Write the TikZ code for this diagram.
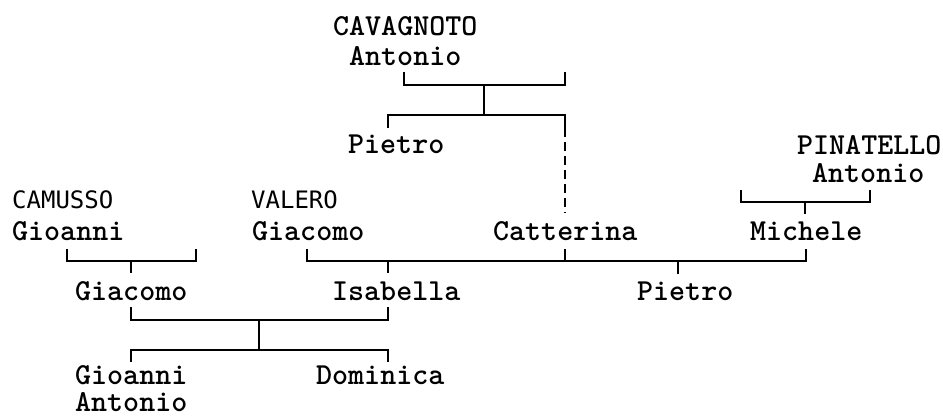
\documentclass[tikz,border=0pt]{standalone}
\usepackage{fontspec}
\newfontfamily\capsans{DejaVu Sans Mono}
\tikzset{
  person/.style={font=\ttfamily\bfseries\fontsize{30.5}{32}\selectfont, inner sep=0pt, anchor=base west},
  sansname/.style={font=\capsans\fontsize{24}{26}\selectfont, inner sep=0pt, anchor=base west},
  bar/.style={line width=1.7pt},
  unsure/.style={bar, dash pattern=on 9pt off 5pt}
}
\begin{document}
\begin{tikzpicture}[x=1pt,y=-1pt]
                \useasboundingbox (0,0) rectangle (943,416);
                \node[person] (cavagnoto) at (333,35) {CAVAGNOTO};
                \node[person] (antonioC) at (349,65) {Antonio};
                \node[person] (pietroC) at (348,153) {Pietro};
                \node[person] (pinatello) at (797,154) {PINATELLO};
                \node[person] (antonioP) at (812,182) {Antonio};
                \node[sansname] (camusso) at (12,208) {CAMUSSO};
                \node[person] (gioanniC) at (12,240) {Gioanni};
                \node[sansname] (valero) at (251,208) {VALERO};
                \node[person] (giacomoV) at (252,240) {Giacomo};
                \node[person] (catterina) at (493,240) {Catterina};
                \node[person] (michele) at (750,240) {Michele};
                \node[person] (giacomo) at (75,300) {Giacomo};
                \node[person] (isabella) at (332,300) {Isabella};
                \node[person] (pietro) at (637,300) {Pietro};
                \node[person, align=left] (gioanni) at (75,411) {Gioanni\\[-5pt]Antonio};
                \node[person] (dominica) at (316,384) {Dominica};
                \coordinate (cA) at (404,72); \coordinate (cB) at (565,72); \coordinate (cM) at (484,85);
                \coordinate (cN) at (484,115); \coordinate (cP) at (388,128); \coordinate (cC) at (565,128);
                \coordinate (cE) at (565,213);
                \draw[bar] (cA) |- (cM) -| (cB);
                \draw[bar] (cM) -- (cN);
                \draw[bar] (cP) |- (cN) -| (cC);
                \draw[unsure] (cC) -- (cE);
                \coordinate (pA) at (741,190); \coordinate (pB) at (870,190); \coordinate (pM) at (805,202);
                \coordinate (pD) at (805,214);
                \draw[bar] (pA) |- (pM) -| (pB);
                \draw[bar] (pM) -- (pD);
                \coordinate (gA) at (67,249); \coordinate (gB) at (196,249); \coordinate (gM) at (131,261);
                \coordinate (gD) at (131,273);
                \draw[bar] (gA) |- (gM) -| (gB);
                \draw[bar] (gM) -- (gD);
                \coordinate (vA) at (307,249); \coordinate (vC) at (565,249); \coordinate (vB) at (806,249);
                \coordinate (vI) at (388,261); \coordinate (vP) at (678,261);
                \draw[bar] (vA) |- (vI) -| (vB);
                \draw[bar] (vC) -- ++(0,12);
                \draw[bar] (vI) -- ++(0,12);
                \draw[bar] (vP) -- ++(0,13);
                \coordinate (mA) at (131,307); \coordinate (mB) at (388,307); \coordinate (mM) at (259,320);
                \coordinate (mN) at (259,350); \coordinate (kA) at (131,362); \coordinate (kB) at (388,362);
                \draw[bar] (mA) |- (mM) -| (mB);
                \draw[bar] (mM) -- (mN);
                \draw[bar] (kA) |- (mN) -| (kB);
            \end{tikzpicture}
\end{document}
